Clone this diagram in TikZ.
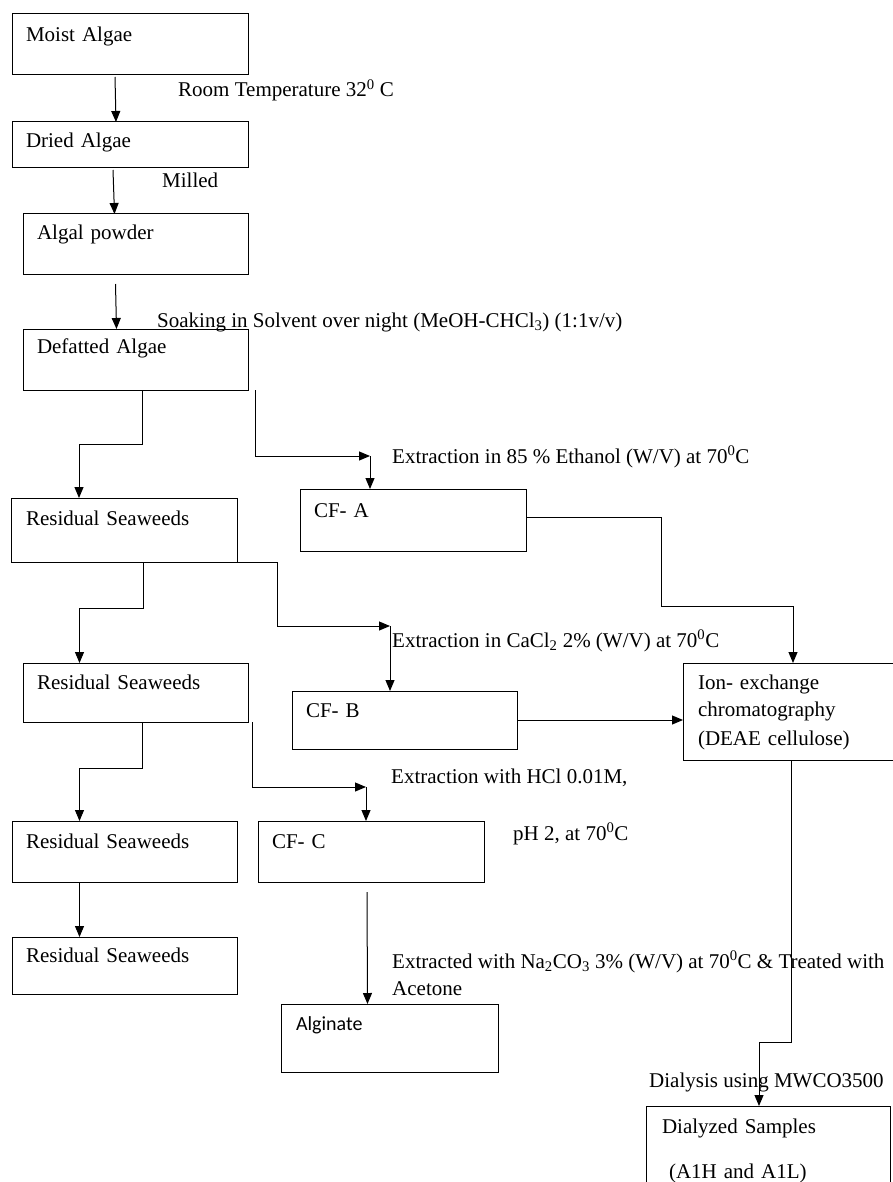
\documentclass[tikz,border=0pt]{standalone}
\usepackage{fontspec}
\setmainfont{Liberation Serif}
\newfontfamily\calfont{Carlito}
\usetikzlibrary{arrows.meta}
\tikzset{
	blk/.style={draw, line width=1pt, anchor=base west, align=left, inner xsep=14pt, inner ysep=0pt, outer sep=0pt},
	lbl/.style={anchor=base west, inner sep=0pt},
	arr/.style={line width=1pt, -{Triangle[length=11pt,width=9pt]}},
	wire/.style={line width=1pt}
}
\begin{document}
\begin{tikzpicture}[x=1pt,y=-1pt,font=\fontsize{21}{25}\selectfont]
		\clip (0,0) rectangle (893,1182);
		% boxes, placed at (left edge, first baseline)
		\node (moist) [blk,text width=208pt,text height=28pt,text depth=33pt] at (12,42) {Moist Algae};
		\node (dried) [blk,text width=208pt,text height=26pt,text depth=20pt] at (12,148) {Dried Algae};
		\node (powder) [blk,text width=197pt,text height=26pt,text depth=34pt] at (23,240) {Algal powder};
		\node (defat) [blk,text width=197pt,text height=24pt,text depth=37pt] at (23,353) {Defatted Algae};
		\node (res1) [blk,text width=196pt,text height=27pt,text depth=37pt,inner xsep=15pt] at (11,525) {Residual Seaweeds};
		\node (cfa) [blk,text width=198pt,text height=28pt,text depth=34pt] at (300,517) {CF- A};
		\node (res2) [blk,text width=197pt,text height=26pt,text depth=33pt] at (23,689) {Residual Seaweeds};
		\node (cfb) [blk,text width=197pt,text height=26pt,text depth=32pt] at (292,717) {CF- B};
		\node (ion) [blk,text width=182pt,text height=26pt,text depth=71pt,inner xsep=15pt] at (683,689)
			{\begin{tabular}[t]{@{}l@{}}Ion- exchange\\[2pt] chromatography\\[4pt] (DEAE cellulose)\end{tabular}};
		\node (res3) [blk,text width=197pt,text height=27pt,text depth=34pt] at (12,848) {Residual Seaweeds};
		\node (cfc) [blk,text width=198pt,text height=27pt,text depth=34pt] at (258,848) {CF- C};
		\node (res4) [blk,text width=197pt,text height=25pt,text depth=32pt] at (12,962) {Residual Seaweeds};
		\node (alg) [blk,text width=187pt,text height=26pt,text depth=42pt,inner xsep=15pt,font=\calfont\fontsize{20}{24}\selectfont] at (281,1030) {Alginate};
		\node (dial) [blk,text width=212pt,text height=27pt,text depth=90pt,inner xsep=16pt] at (646,1133)
			{\begin{tabular}[t]{@{}l@{}}Dialyzed Samples\\[20pt] \ (A1H and A1L)\end{tabular}};
		% step labels
		\node (l1) [lbl] at (178,97) {Room Temperature 32\textsuperscript{0} C};
		\node (l2) [lbl] at (162,188) {Milled};
		\node (l3) [lbl] at (157,327) {Soaking in Solvent over night (MeOH-CHCl\textsubscript{3}) (1:1v/v)};
		\node (l4) [lbl] at (392,463) {Extraction in 85 \% Ethanol (W/V) at 70\textsuperscript{0}C};
		\node (l5) [lbl] at (392,647) {Extraction in CaCl\textsubscript{2} 2\% (W/V) at 70\textsuperscript{0}C};
		\node (l6) [lbl] at (391,783) {Extraction with HCl 0.01M,};
		\node (l7) [lbl] at (513,840) {pH 2, at 70\textsuperscript{0}C};
		\node (l8) [lbl] at (392,968) {Extracted with Na\textsubscript{2}CO\textsubscript{3} 3\% (W/V) at 70\textsuperscript{0}C \& Treated with};
		\node (l9) [lbl] at (392,995) {Acetone};
		\node (l10) [lbl] at (649,1087) {Dialysis using MWCO3500};
		% bends of the side branches
		\coordinate (ka) at (370,456);
		\coordinate (kb) at (390,626);
		\coordinate (kc) at (366,787);
		\coordinate (kd) at (661,606);
		% main line
		\draw[arr] ([xshift=-15pt,yshift=-2pt]moist.south) -- ([xshift=-14pt]dried.north);
		\draw[arr] ([xshift=-17pt,yshift=-2pt]dried.south) -- ([xshift=-21pt]powder.north);
		\draw[arr] ([xshift=-20pt,yshift=-10pt]powder.south) -- ([xshift=-19pt]defat.north);
		\draw[arr] ([xshift=7pt]defat.south) -- ++(0,54) -| ([xshift=-45pt]res1.north);
		\draw[arr] ([xshift=19pt]res1.south) -- ++(0,46) -| ([xshift=-56pt]res2.north);
		\draw[arr] ([xshift=7pt]res2.south) -- ++(0,46) -| ([xshift=-45pt]res3.north);
		\draw[arr] ([xshift=-45pt]res3.south) -- ([xshift=-45pt]res4.north);
		% side branches
		\draw[arr] ([xshift=7pt]defat.south east) |- (ka);
		\draw[arr] (ka) -- (ka |- cfa.north);
		\draw[arr] (res1.south east) -- ++(40,0) |- (kb);
		\draw[arr] (kb) -- (kb |- cfb.north);
		\draw[arr] ([xshift=4pt]res2.south east) |- (kc);
		\draw[arr] (kc) -- (kc |- cfc.north);
		\draw[arr] ([xshift=-4pt,yshift=-10pt]cfc.south) -- ([xshift=-22pt]alg.north);
		% to the column
		\draw[arr] ([yshift=3pt]cfa.east) -| (kd) -| ([xshift=4pt]ion.north);
		\draw[arr] (cfb.east) -- (cfb.east -| ion.west);
		\draw[arr] ([xshift=2pt]ion.south) -- ++(0,282) -| ([xshift=-9pt]dial.north);
	\end{tikzpicture}
\end{document}
